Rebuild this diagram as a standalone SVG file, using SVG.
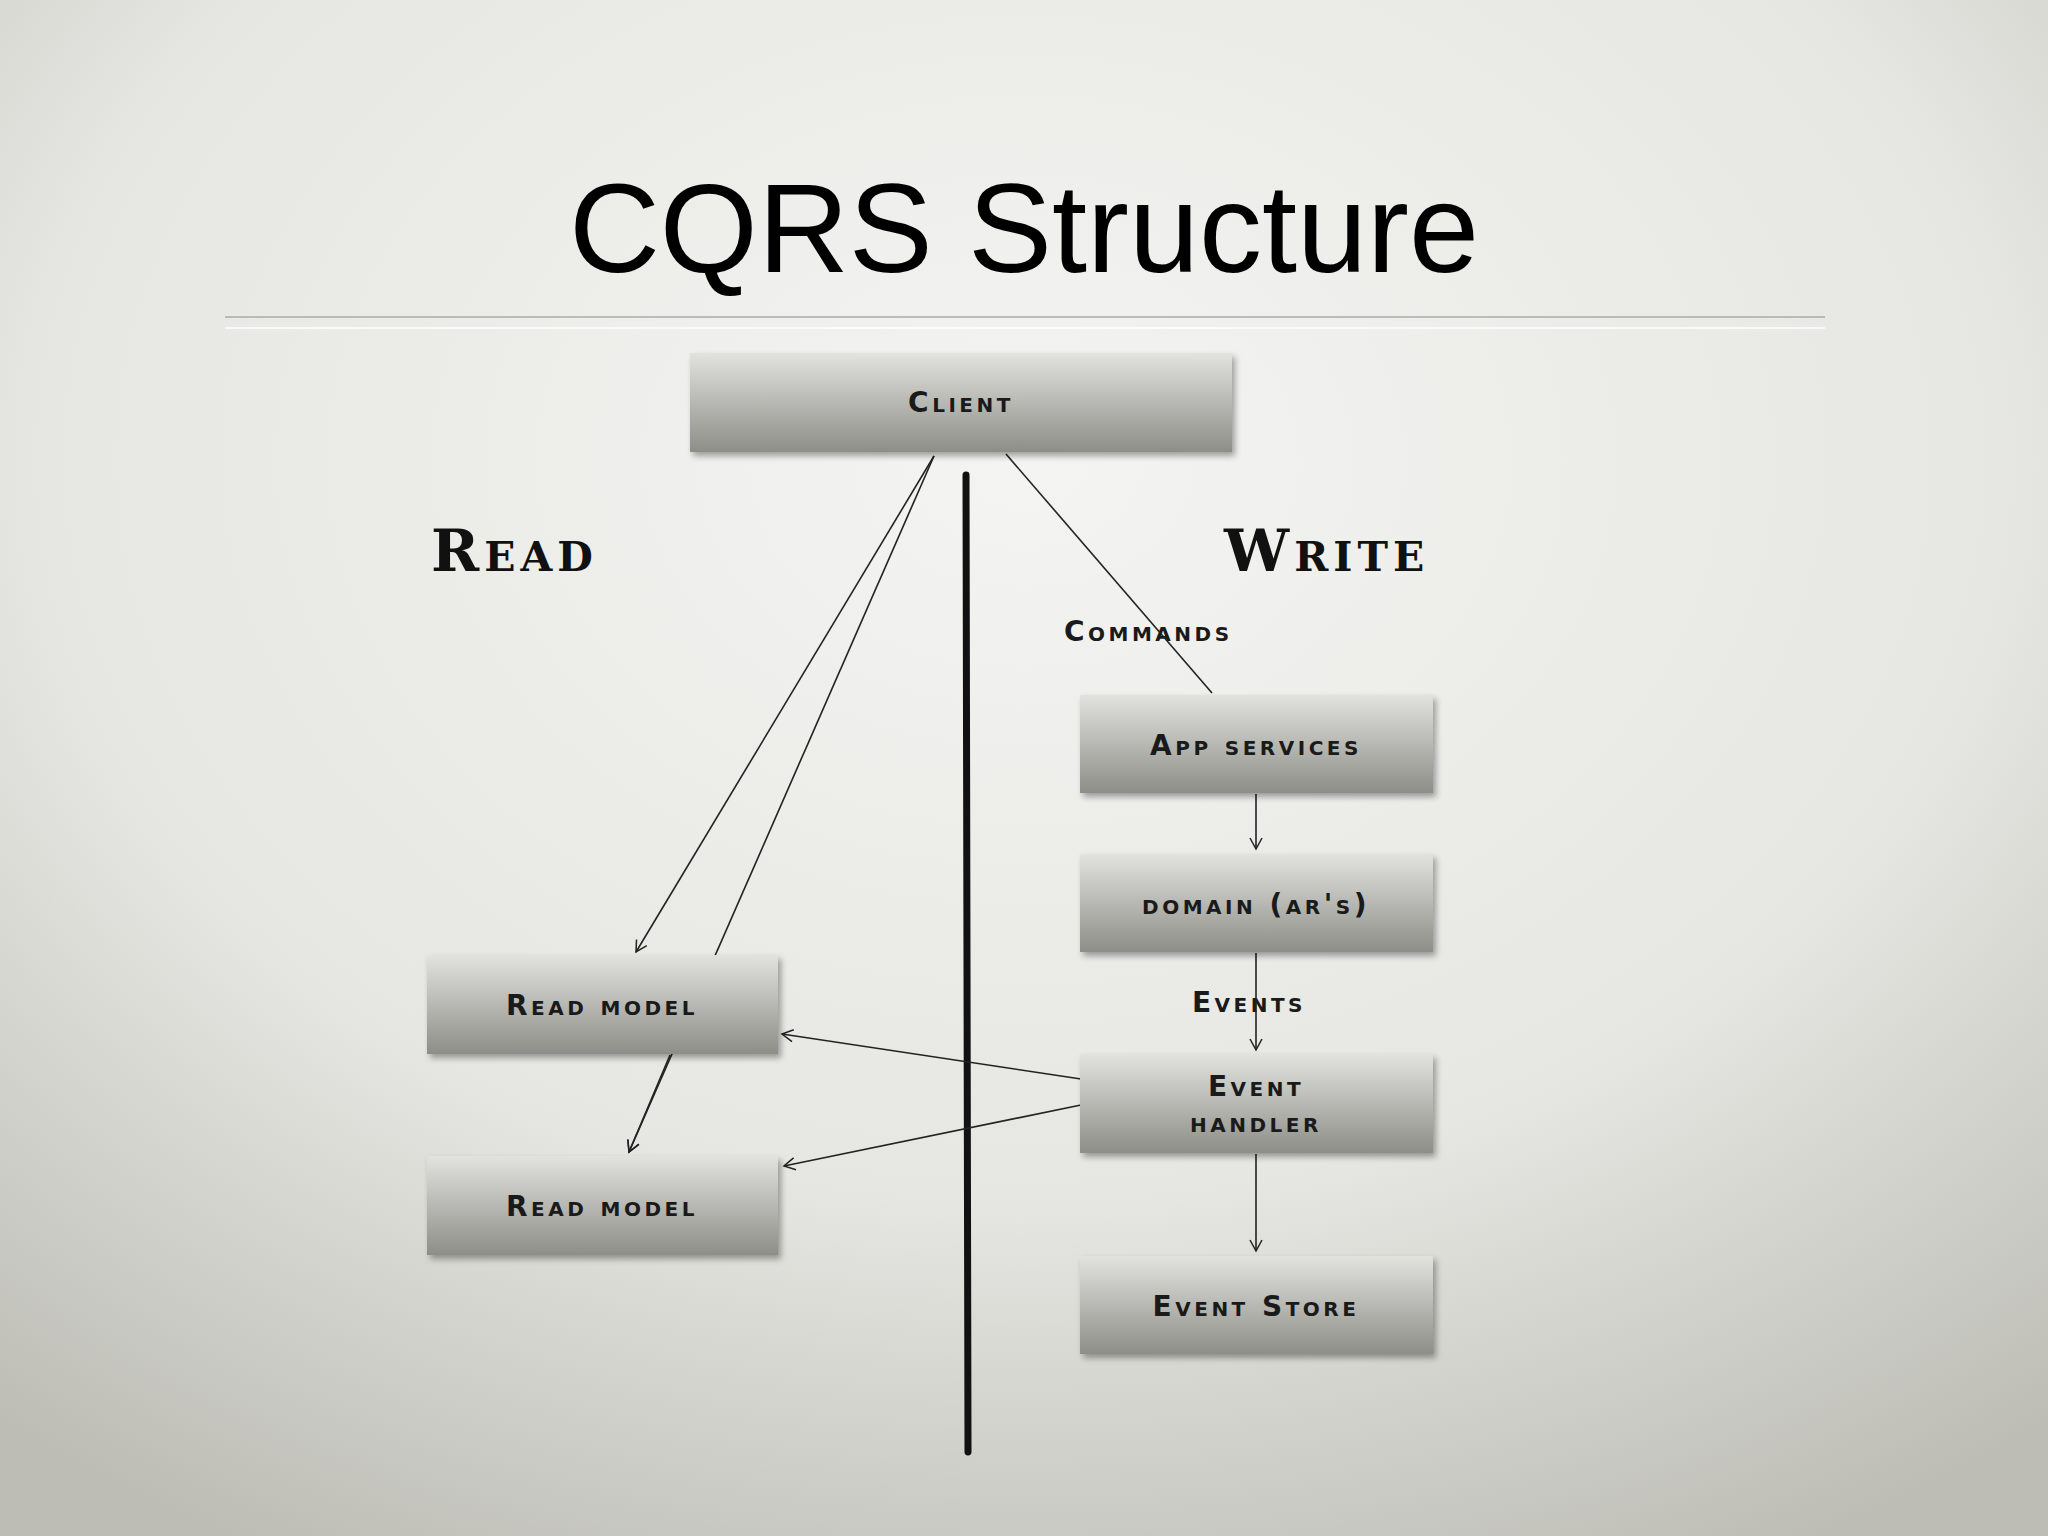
<svg xmlns="http://www.w3.org/2000/svg" width="2048" height="1536" viewBox="0 0 2048 1536">
<defs>
<radialGradient id="bg" cx="0.5" cy="0.3" r="0.8">
<stop offset="0" stop-color="#f4f4f2"/><stop offset="0.6" stop-color="#e6e6e2"/><stop offset="1" stop-color="#bdbdb6"/>
</radialGradient>
<linearGradient id="box" x1="0" y1="0" x2="0" y2="1">
<stop offset="0" stop-color="#e2e2de"/><stop offset="1" stop-color="#8e8e89"/>
</linearGradient>
<filter id="sh" x="-10%" y="-10%" width="130%" height="140%"><feDropShadow dx="3" dy="4" stdDeviation="3" flood-opacity="0.35"/></filter>
<marker id="ah" markerWidth="14" markerHeight="14" refX="12" refY="7" orient="auto" markerUnits="userSpaceOnUse">
<path d="M1,1 L12,7 L1,13" fill="none" stroke="#222" stroke-width="1.5"/>
</marker>
</defs>
<style>
.b{fill:url(#box);filter:url(#sh)}
.t{font-family:"DejaVu Sans",sans-serif;font-variant:small-caps;font-weight:bold;font-size:28px;letter-spacing:3.5px;fill:#1a1a1a;text-anchor:middle}
.c{stroke:#222;stroke-width:1.6;fill:none}
.h{font-family:"DejaVu Serif",serif;font-variant:small-caps;font-weight:bold;font-size:58px;letter-spacing:5px;fill:#111}
</style>
<rect width="2048" height="1536" fill="url(#bg)"/>
<text x="1024" y="272" font-family="Liberation Sans, Arial, sans-serif" font-size="126" text-anchor="middle" fill="#000">CQRS Structure</text>
<line x1="225" y1="317" x2="1825" y2="317" stroke="#aaa" stroke-width="1.5"/>
<line x1="225" y1="328" x2="1825" y2="328" stroke="#fff" stroke-width="1.5"/>
<line x1="966" y1="475" x2="968" y2="1452" stroke="#111" stroke-width="7" stroke-linecap="round"/>
<text class="h" x="431" y="571">Read</text>
<text class="h" x="1224" y="571">Write</text>
<text class="t" x="1064" y="641" style="text-anchor:start">Commands</text>
<text class="t" x="1249" y="1012">Events</text>
<g id="connectors">
<line class="c" x1="934" y1="456" x2="636" y2="952" marker-end="url(#ah)"/>
<line class="c" x1="934" y1="456" x2="629" y2="1152" marker-end="url(#ah)"/>
<line class="c" x1="1006" y1="454" x2="1212" y2="693"/>
<line class="c" x1="1256" y1="794" x2="1256" y2="849" marker-end="url(#ah)"/>
<line class="c" x1="1256" y1="953" x2="1256" y2="1050" marker-end="url(#ah)"/>
<line class="c" x1="1256" y1="1154" x2="1256" y2="1251" marker-end="url(#ah)"/>
<line class="c" x1="1081" y1="1079" x2="782" y2="1034" marker-end="url(#ah)"/>
<line class="c" x1="1081" y1="1105" x2="784" y2="1166" marker-end="url(#ah)"/>
</g>
<g id="client"><rect class="b" x="690" y="353" width="542" height="99"/><text class="t" x="961" y="412">Client</text></g>
<g id="app"><rect class="b" x="1080" y="695" width="353" height="98"/><text class="t" x="1256" y="755">App services</text></g>
<g id="domain"><rect class="b" x="1080" y="854" width="353" height="98"/><text class="t" x="1256" y="914">domain (ar's)</text></g>
<g id="handler"><rect class="b" x="1080" y="1054" width="353" height="99"/><text class="t" x="1256" y="1096">Event</text><text class="t" x="1256" y="1132">handler</text></g>
<g id="store"><rect class="b" x="1080" y="1256" width="353" height="98"/><text class="t" x="1256" y="1316">Event Store</text></g>
<g id="rm1"><rect class="b" x="427" y="955" width="351" height="99"/><text class="t" x="602" y="1015">Read model</text></g>
<g id="rm2"><rect class="b" x="427" y="1156" width="351" height="99"/><text class="t" x="602" y="1216">Read model</text></g>
<g id="rm2line"><line class="c" x1="670" y1="1055" x2="629" y2="1152" marker-end="url(#ah)"/></g>
</svg>
